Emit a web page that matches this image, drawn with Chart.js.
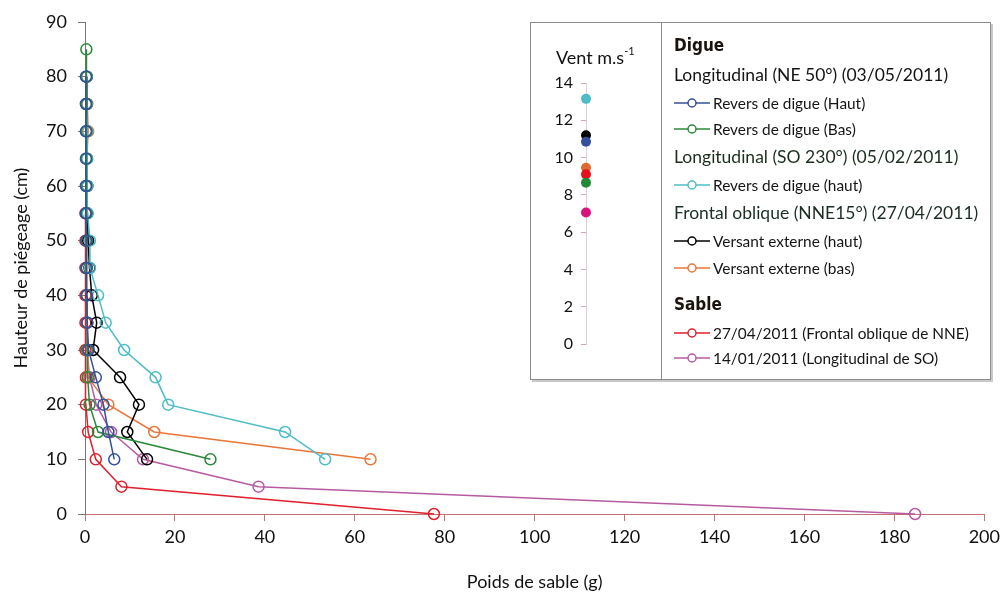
<!DOCTYPE html>
<html>
<head>
<meta charset="utf-8">
<script src="https://cdn.jsdelivr.net/npm/chart.js@4/dist/chart.umd.min.js"></script>
<style>
  html, body { margin:0; padding:0; background:#fff; }
  #wrap { position:relative; width:1005px; height:593px; overflow:hidden; }
  #main { position:absolute; left:0; top:0; }
  #inset { position:absolute; left:530px; top:22px; width:459px; height:356px; background:#fff;
           border:1px solid #8c8c8c; box-shadow: 2px 2px 0 #c8c8c8; }
  #divider { position:absolute; left:130px; top:0; width:1px; height:356px; background:#8c8c8c; }
  #wind { position:absolute; left:0; top:0; }
  #ventTitle { position:absolute; left:25px; top:23px; font-family:Lato, sans-serif; font-size:18px; color:#111; white-space:nowrap; }
  #ventTitle sup { font-size:11px; position:relative; top:-2px; }
  .row { position:absolute; font-family:Lato, sans-serif; white-space:nowrap; line-height:22px; height:22px; }
  .hdr { font-family:"Liberation Sans Narrow", "DejaVu Sans Condensed", sans-serif; font-weight:bold; font-size:17px; color:#1a120c; }
  .grp { font-size:17.5px; }
  .item { font-size:15.4px; color:#151515; }
  .item svg { position:absolute; left:0; top:3px; }
  .item span { position:absolute; left:39px; top:0; }
</style>
</head>
<body>
<div id="wrap">
  <canvas id="main" width="1005" height="593"></canvas>
  <div id="inset">
    <canvas id="wind" width="130" height="356"></canvas>
    <div id="ventTitle">Vent m.s<sup>-1</sup></div>
    <div id="divider"></div>
    <div id="legend"></div>
  </div>
</div>
<script>
// ---------- DATA ----------
const xTicks = [0, 20, 40, 60, 80, 100, 120, 140, 160, 180, 200];
const yTicks = [0, 10, 20, 30, 40, 50, 60, 70, 80, 90];

const heightsDigue = [10, 15, 20, 25, 30, 35, 40, 45, 50, 55, 60, 65, 70, 75, 80];
const heightsDigueBas = [10, 15, 20, 25, 30, 35, 40, 45, 50, 55, 60, 65, 70, 75, 80, 85];
const heightsSable = [0, 5, 10, 15, 20, 25, 30, 35, 40, 45, 50, 55];

const seriesNames = [
  "Revers de digue (Haut)",
  "Revers de digue (Bas)",
  "Revers de digue (haut)",
  "Versant externe (haut)",
  "Versant externe (bas)",
  "27/04/2011 (Frontal oblique de NNE)",
  "14/01/2011 (Longitudinal de SO)"
];
const reversHautNE = [6.5, 5.2, 4.1, 2.4, 0.8, 0.5, 0.4, 0.3, 0.3, 0.2, 0.2, 0.2, 0.2, 0.2, 0.2];
const reversBasNE  = [27.9, 2.9, 1.0, 0.6, 0.5, 0.5, 0.4, 0.4, 0.4, 0.3, 0.3, 0.3, 0.3, 0.3, 0.3, 0.3];
const reversHautSO = [53.4, 44.5, 18.5, 15.7, 8.7, 4.6, 2.9, 1.1, 1.1, 0.6, 0.5, 0.5, 0.5, 0.4, 0.4];
const versantHaut  = [13.8, 9.4, 12.0, 7.8, 1.8, 2.6, 1.5, 1.0, 0.7, 0.5, 0.5, 0.4, 0.4, 0.4, 0.4];
const versantBas   = [63.5, 15.4, 5.2, 0.7, 0.6, 0.5, 0.4, 0.4, 0.4, 0.4, 0.4, 0.4, 0.7, 0.5, 0.4];
const sable2704    = [77.6, 8.1, 2.4, 0.7, 0.2, 0.2, 0.1, 0.1, 0.1, 0.1, 0.1, 0.1];
const sable1401    = [184.6, 38.6, 12.9, 5.8, 2.5, 1.0, 0.5, 0.4, 0.3, 0.3, 0.3, 0.3];

const seriesColors = ["#34509c", "#2b8a3a", "#4dbcc6", "#000000", "#e8763a", "#e0202c", "#b85aa2"];

// wind speeds (m/s) shown in the inset
const windValues = [13.15, 11.2, 10.85, 9.45, 9.1, 8.65, 7.05];
const windColors = ["#4dbcc6", "#000000", "#34509c", "#e06a30", "#e8101a", "#208a34", "#d8147c"];
const windTicks = [0, 2, 4, 6, 8, 10, 12, 14];

// ---------- MAIN CHART ----------
function pts(xs, hs) { return xs.map((v, i) => ({ x: v, y: hs[i] })); }
const seriesData = [
  pts(reversHautNE, heightsDigue),
  pts(reversBasNE, heightsDigueBas),
  pts(reversHautSO, heightsDigue),
  pts(versantHaut, heightsDigue),
  pts(versantBas, heightsDigue),
  pts(sable2704, heightsSable),
  pts(sable1401, heightsSable)
];

const FONT = "Lato, 'Open Sans', sans-serif";
new Chart(document.getElementById('main'), {
  type: 'scatter',
  data: {
    datasets: seriesData.map((d, i) => ({
      label: seriesNames[i],
      data: d,
      showLine: true,
      borderColor: seriesColors[i],
      borderWidth: 1.5,
      pointRadius: 5.5,
      pointHoverRadius: 5.5,
      pointBorderWidth: 1.5,
      pointBorderColor: seriesColors[i],
      pointBackgroundColor: 'rgba(255,255,255,0)',
      tension: 0,
      clip: false
    }))
  },
  options: {
    responsive: false,
    animation: false,
    layout: { padding: { left: 0, right: 17, top: 22, bottom: 0 } },
    plugins: { legend: { display: false }, tooltip: { enabled: false } },
    scales: {
      x: {
        type: 'linear', min: 0, max: 200,
        afterBuildTicks: s => { s.ticks = xTicks.map(v => ({ value: v })); },
        afterFit: s => { s.height = 79; },
        grid: { drawOnChartArea: false, drawTicks: true, tickLength: 7, color: '#c77070', lineWidth: 1 },
        border: { display: true, color: '#c77070', width: 1 },
        ticks: { color: '#111', font: { family: FONT, size: 18 }, padding: 5, maxRotation: 0 },
        title: { display: true, text: 'Poids de sable (g)', color: '#111', font: { family: FONT, size: 18 }, padding: { top: 0, bottom: 0 } }
      },
      y: {
        type: 'linear', min: 0, max: 90,
        afterBuildTicks: s => { s.ticks = yTicks.map(v => ({ value: v })); },
        afterFit: s => { s.width = 85; },
        grid: { drawOnChartArea: false, drawTicks: true, tickLength: 7, color: '#777', lineWidth: 1 },
        border: { display: true, color: '#777', width: 1 },
        ticks: { color: '#111', font: { family: FONT, size: 18 }, padding: 11 },
        title: { display: true, text: 'Hauteur de piégeage (cm)', color: '#111', font: { family: FONT, size: 18 }, padding: { top: 10, bottom: 0 } }
      }
    }
  }
});

// ---------- WIND INSET ----------
new Chart(document.getElementById('wind'), {
  type: 'scatter',
  data: {
    datasets: [{
      data: windValues.map(v => ({ x: 0, y: v })),
      pointRadius: 5,
      pointHoverRadius: 5,
      pointBorderWidth: 0,
      pointBackgroundColor: windColors,
      pointBorderColor: windColors,
      clip: false
    }]
  },
  options: {
    responsive: false,
    animation: false,
    layout: { padding: { left: 0, right: 10, top: 60, bottom: 35 } },
    plugins: { legend: { display: false }, tooltip: { enabled: false } },
    scales: {
      x: { type: 'linear', min: 0, max: 1, display: false },
      y: {
        type: 'linear', min: 0, max: 14,
        afterBuildTicks: s => { s.ticks = windTicks.map(v => ({ value: v })); },
        afterFit: s => { s.width = 55; },
        grid: { drawOnChartArea: false, drawTicks: true, tickLength: 5, color: '#c9a9c0', lineWidth: 1 },
        border: { display: true, color: '#dcd0dc', width: 1 },
        ticks: { color: '#111', font: { family: FONT, size: 16 }, padding: 8 }
      }
    }
  }
});

// ---------- LEGEND (HTML) ----------
const legendRows = [
  { type: 'hdr', text: 'Digue', y: 45 },
  { type: 'grp', text: 'Longitudinal (NE 50°) (03/05/2011)', y: 75, color: '#141414' },
  { type: 'item', s: 0, y: 103 },
  { type: 'item', s: 1, y: 129 },
  { type: 'grp', text: 'Longitudinal (SO 230°) (05/02/2011)', y: 157, color: '#1a2e1e' },
  { type: 'item', s: 2, y: 185 },
  { type: 'grp', text: 'Frontal oblique (NNE15°) (27/04/2011)', y: 213, color: '#1a2e24' },
  { type: 'item', s: 3, y: 241 },
  { type: 'item', s: 4, y: 268 },
  { type: 'hdr', text: 'Sable', y: 304 },
  { type: 'item', s: 5, y: 333 },
  { type: 'item', s: 6, y: 358 }
];
const legend = document.getElementById('legend');
const insetLeft = 530, insetTop = 22;
legendRows.forEach(r => {
  const d = document.createElement('div');
  d.className = 'row ' + r.type;
  d.style.left = (674 - insetLeft - 1) + 'px';
  d.style.top = (r.y - insetTop - 1 - 11) + 'px';
  if (r.type === 'item') {
    const c = seriesColors[r.s];
    d.style.width = '300px';
    d.innerHTML = '<svg width="37" height="16"><line x1="0" y1="8" x2="36" y2="8" stroke="' + c +
      '" stroke-width="1.5"/><circle cx="18" cy="8" r="4" fill="#fff" stroke="' + c +
      '" stroke-width="1.5"/></svg><span>' + seriesNames[r.s] + '</span>';
  } else {
    d.textContent = r.text;
    if (r.color) d.style.color = r.color;
  }
  legend.appendChild(d);
});
</script>
</body>
</html>
